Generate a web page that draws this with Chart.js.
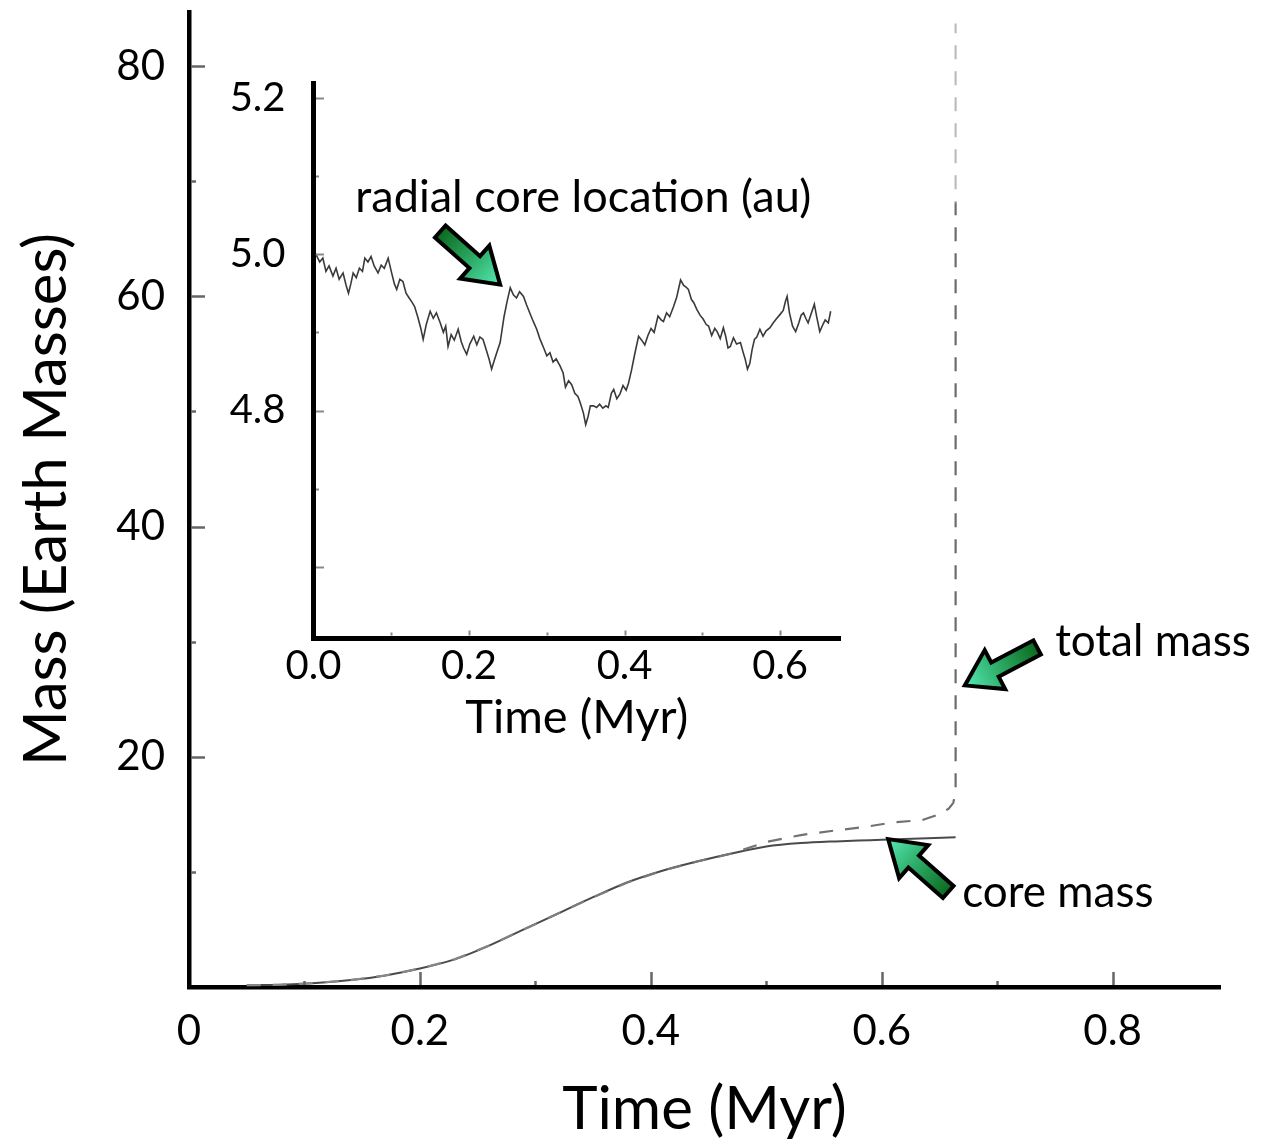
<!DOCTYPE html>
<html>
<head>
<meta charset="utf-8">
<script src="https://cdn.jsdelivr.net/npm/chart.js@4/dist/chart.umd.min.js"></script>
<style>
  html, body { margin: 0; padding: 0; background: #fff; overflow: hidden; }
  #wrap { position: relative; width: 1263px; height: 1148px; }
  #main { position: absolute; left: 0; top: 0; }
  #inset { position: absolute; left: 150px; top: 40px; }
</style>
</head>
<body>
<div id="wrap">
  <canvas id="main" width="1263" height="1148"></canvas>
  <canvas id="inset" width="760" height="720"></canvas>
</div>
<script>
// ---------------- DATA ----------------
// Main panel: core mass vs time
const coreTime = [0.05, 0.08, 0.11, 0.14, 0.17, 0.20, 0.23, 0.26, 0.29, 0.32, 0.35, 0.38, 0.41, 0.44, 0.47, 0.50, 0.53, 0.56, 0.59, 0.62, 0.664];
const coreMass = [0.15, 0.2, 0.35, 0.6, 1.0, 1.6, 2.4, 3.6, 5.0, 6.4, 7.8, 9.1, 10.1, 10.9, 11.6, 12.2, 12.5, 12.65, 12.75, 12.85, 13.0];
// Main panel: total mass vs time (dashed)
const totalTime = [0.05, 0.08, 0.11, 0.14, 0.17, 0.20, 0.23, 0.26, 0.29, 0.32, 0.35, 0.38, 0.41, 0.44, 0.47, 0.50, 0.53, 0.56, 0.585, 0.61, 0.635, 0.65, 0.658, 0.662, 0.664, 0.664];
const totalMass = [0.15, 0.2, 0.35, 0.6, 1.0, 1.6, 2.4, 3.6, 5.0, 6.4, 7.8, 9.1, 10.1, 10.9, 11.6, 12.6, 13.2, 13.6, 13.9, 14.3, 14.5, 15.0, 15.5, 16.0, 17.0, 83.7];
// Inset: radial core location (au) vs time (Myr)
const insetTime = [0.003,0.008,0.012,0.016,0.020,0.025,0.029,0.033,0.038,0.042,0.045,0.048,0.051,0.055,0.059,0.063,0.066,0.070,0.074,0.078,0.083,0.087,0.091,0.096,0.100,0.104,0.107,0.111,0.115,0.119,0.123,0.127,0.130,0.134,0.138,0.141,0.145,0.150,0.154,0.158,0.163,0.167,0.170,0.173,0.177,0.181,0.186,0.190,0.193,0.197,0.201,0.206,0.210,0.214,0.218,0.222,0.226,0.229,0.233,0.237,0.240,0.245,0.249,0.253,0.257,0.261,0.265,0.270,0.274,0.278,0.283,0.287,0.291,0.296,0.300,0.304,0.308,0.312,0.317,0.321,0.324,0.328,0.332,0.336,0.340,0.343,0.347,0.350,0.353,0.356,0.360,0.364,0.368,0.372,0.376,0.379,0.383,0.386,0.390,0.394,0.398,0.402,0.405,0.409,0.413,0.418,0.422,0.426,0.430,0.434,0.438,0.443,0.447,0.450,0.454,0.458,0.463,0.467,0.472,0.476,0.479,0.482,0.486,0.489,0.493,0.497,0.501,0.505,0.508,0.512,0.516,0.519,0.523,0.527,0.530,0.533,0.536,0.540,0.544,0.549,0.552,0.555,0.558,0.561,0.564,0.567,0.570,0.574,0.578,0.582,0.587,0.591,0.595,0.600,0.604,0.607,0.609,0.612,0.616,0.620,0.624,0.627,0.630,0.633,0.636,0.640,0.644,0.647,0.651,0.655,0.658,0.662,0.665];
const insetRadius = [5.000,4.990,4.995,4.978,4.985,4.972,4.982,4.968,4.976,4.960,4.950,4.962,4.976,4.970,4.982,4.978,4.995,4.990,4.997,4.985,4.976,4.986,4.982,4.995,4.978,4.962,4.955,4.968,4.965,4.950,4.944,4.938,4.933,4.920,4.905,4.891,4.910,4.927,4.918,4.925,4.912,4.900,4.908,4.882,4.897,4.890,4.904,4.888,4.880,4.872,4.885,4.895,4.884,4.894,4.891,4.878,4.865,4.853,4.866,4.878,4.887,4.920,4.940,4.957,4.948,4.944,4.952,4.946,4.935,4.925,4.913,4.904,4.892,4.880,4.870,4.874,4.862,4.866,4.857,4.848,4.830,4.838,4.833,4.822,4.818,4.810,4.797,4.782,4.792,4.806,4.806,4.804,4.808,4.803,4.806,4.804,4.822,4.827,4.815,4.821,4.832,4.826,4.835,4.852,4.872,4.895,4.890,4.884,4.896,4.905,4.900,4.921,4.916,4.914,4.925,4.920,4.933,4.945,4.967,4.960,4.958,4.955,4.942,4.938,4.929,4.922,4.917,4.910,4.908,4.896,4.905,4.901,4.892,4.906,4.895,4.880,4.882,4.893,4.885,4.887,4.876,4.866,4.853,4.860,4.878,4.891,4.894,4.904,4.895,4.902,4.906,4.912,4.917,4.923,4.928,4.940,4.946,4.925,4.908,4.901,4.912,4.922,4.925,4.918,4.912,4.924,4.936,4.920,4.901,4.910,4.916,4.912,4.927];

// Tick values and labels
const mainXTicks = [0, 0.2, 0.4, 0.6, 0.8];
const mainXLabels = ['0', '0.2', '0.4', '0.6', '0.8'];
const mainXMinor = [0.1, 0.3, 0.5, 0.7];
const mainYTicks = [20, 40, 60, 80];
const mainYLabels = ['20', '40', '60', '80'];
const mainYMinor = [10, 30, 50, 70];
const insetXTicks = [0, 0.2, 0.4, 0.6];
const insetXLabels = ['0.0', '0.2', '0.4', '0.6'];
const insetXMinor = [0.1, 0.3, 0.5];
const insetYTicks = [4.8, 5.0, 5.2];
const insetYLabels = ['4.8', '5.0', '5.2'];
const insetYMajorMarks = [4.6, 4.8, 5.0, 5.2];
const insetYMinor = [4.7, 4.9, 5.1];

// ---------------- PLUGINS ----------------
const innerTicks = {
  id: 'innerTicks',
  afterDraw(chart, args, o) {
    const ctx = chart.ctx, a = chart.chartArea, xs = chart.scales.x, ys = chart.scales.y;
    ctx.save();
    ctx.strokeStyle = o.color || '#666';
    ctx.lineWidth = o.width || 2;
    const edge = o.edge || 2;
    const xt = (vals, len) => vals.forEach(v => {
      const px = Math.round(xs.getPixelForValue(v)) + 0.5;
      ctx.beginPath(); ctx.moveTo(px, a.bottom - edge); ctx.lineTo(px, a.bottom - edge - len); ctx.stroke();
    });
    const yt = (vals, len) => vals.forEach(v => {
      const py = Math.round(ys.getPixelForValue(v)) + 0.5;
      ctx.beginPath(); ctx.moveTo(a.left + edge, py); ctx.lineTo(a.left + edge + len, py); ctx.stroke();
    });
    xt(o.xMajor || [], o.xMajorLen); xt(o.xMinor || [], o.xMinorLen);
    yt(o.yMajor || [], o.yMajorLen); yt(o.yMinor || [], o.yMinorLen);
    ctx.restore();
  }
};

function drawArrow(ctx, tx, ty, hx, hy, shaftW, headW, headL) {
  const ang = Math.atan2(hy - ty, hx - tx);
  const len = Math.hypot(hx - tx, hy - ty);
  ctx.save();
  ctx.translate(tx, ty); ctx.rotate(ang);
  ctx.beginPath();
  ctx.moveTo(0, -shaftW / 2);
  ctx.lineTo(len - headL, -shaftW / 2);
  ctx.lineTo(len - headL, -headW / 2);
  ctx.lineTo(len, 0);
  ctx.lineTo(len - headL, headW / 2);
  ctx.lineTo(len - headL, shaftW / 2);
  ctx.lineTo(0, shaftW / 2);
  ctx.closePath();
  const g = ctx.createLinearGradient(0, 0, len, 0);
  g.addColorStop(0, '#0a6a1e');
  g.addColorStop(0.55, '#2fae6a');
  g.addColorStop(1, '#55e9b4');
  ctx.fillStyle = g; ctx.fill();
  ctx.lineWidth = 4; ctx.lineJoin = 'miter'; ctx.strokeStyle = '#000'; ctx.stroke();
  ctx.restore();
}

const notes = {
  id: 'notes',
  afterDraw(chart, args, o) {
    const ctx = chart.ctx, xs = chart.scales.x, ys = chart.scales.y;
    (o.arrows || []).forEach(ar => {
      drawArrow(ctx, xs.getPixelForValue(ar.tail[0]), ys.getPixelForValue(ar.tail[1]),
                xs.getPixelForValue(ar.tip[0]), ys.getPixelForValue(ar.tip[1]), 16, 44, 34);
    });
    (o.texts || []).forEach(t => {
      ctx.save();
      ctx.font = t.size + 'px Lato';
      ctx.fillStyle = '#000';
      ctx.textAlign = t.align; ctx.textBaseline = 'middle';
      ctx.fillText(t.text, xs.getPixelForValue(t.x), ys.getPixelForValue(t.y));
      ctx.restore();
    });
  }
};

function pts(xa, ya) { return xa.map((x, i) => ({ x: x, y: ya[i] })); }
function noPadV(s) { s.paddingTop = 0; s.paddingBottom = 0; }
function noPadH(s) { s.paddingLeft = 0; s.paddingRight = 0; }

function build() {
  Chart.defaults.font.family = 'Lato';
  Chart.defaults.color = '#000';

  new Chart(document.getElementById('main'), {
    type: 'line',
    data: {
      datasets: [
        {
          label: 'total mass',
          data: pts(totalTime, totalMass),
          borderColor: (c) => {
            const ch = c.chart, a = ch.chartArea;
            if (!a) return '#777';
            const f = (a.bottom - ch.scales.y.getPixelForValue(68)) / (a.bottom - a.top);
            const g = ch.ctx.createLinearGradient(0, a.bottom, 0, a.top);
            g.addColorStop(0, '#8a8a8a');
            g.addColorStop(0.2, '#6c6c6c');
            g.addColorStop(f, '#6c6c6c');
            g.addColorStop(Math.min(1, f + 0.004), '#bdbdbd');
            g.addColorStop(1, '#bdbdbd');
            return g;
          },
          borderWidth: 2.2,
          borderDash: [14, 12],
          pointRadius: 0,
          tension: 0
        },
        {
          label: 'core mass',
          data: pts(coreTime, coreMass),
          borderColor: '#4a4a4a',
          borderWidth: 2,
          pointRadius: 0,
          cubicInterpolationMode: 'monotone'
        }
      ]
    },
    options: {
      responsive: false, animation: false, devicePixelRatio: 1,
      layout: { padding: { top: 12, right: 43, left: 0, bottom: 0 } },
      plugins: {
        legend: { display: false }, tooltip: { enabled: false },
        innerTicks: { xMajor: mainXTicks.slice(1), xMinor: mainXMinor, yMajor: mainYTicks, yMinor: mainYMinor,
                      xMajorLen: 13, xMinorLen: 4, yMajorLen: 14, yMinorLen: 5, color: '#666', width: 2.5, edge: 2 },
        notes: {
          arrows: [
            { tail: [0.7346, 29.5], tip: [0.672, 26.2] },
            { tail: [0.6576, 8.25], tip: [0.6056, 12.85] }
          ],
          texts: [
            { text: 'total mass', x: 0.7502, y: 30.0, align: 'left', size: 44 },
            { text: 'core mass', x: 0.6697, y: 8.16, align: 'left', size: 44 }
          ]
        }
      },
      scales: {
        x: {
          type: 'linear', min: 0, max: 0.893,
          afterBuildTicks: (s) => { s.ticks = mainXTicks.map(v => ({ value: v })); },
          afterFit: (s) => { s.height = 161; noPadH(s); },
          grid: { display: false, drawTicks: false },
          border: { display: true, color: '#000', width: 4.5 },
          ticks: { padding: 19, font: { size: 42 }, maxRotation: 0, autoSkip: false,
                   callback: (v, i) => mainXLabels[i] },
          title: { display: true, text: 'Time (Myr)', font: { size: 60 }, padding: { top: 0, bottom: 2 } }
        },
        y: {
          type: 'linear', min: 0, max: 84.7,
          afterBuildTicks: (s) => { s.ticks = mainYTicks.map(v => ({ value: v })); },
          afterFit: (s) => { s.width = 189; noPadV(s); },
          grid: { display: false, drawTicks: false },
          border: { display: true, color: '#000', width: 4.5 },
          ticks: { padding: 24, font: { size: 42 }, autoSkip: false,
                   callback: (v, i) => mainYLabels[i] },
          title: { display: true, text: 'Mass (Earth Masses)', font: { size: 60 }, padding: { top: 11, bottom: 0 } }
        }
      }
    },
    plugins: [innerTicks, notes]
  });

  new Chart(document.getElementById('inset'), {
    type: 'line',
    data: {
      datasets: [{
        label: 'radial core location (au)',
        data: pts(insetTime, insetRadius),
        borderColor: '#3a3a3a',
        borderWidth: 1.6,
        pointRadius: 0,
        tension: 0
      }]
    },
    options: {
      responsive: false, animation: false, devicePixelRatio: 1,
      layout: { padding: { top: 43, right: 70, left: 0, bottom: 0 } },
      plugins: {
        legend: { display: false }, tooltip: { enabled: false },
        innerTicks: { xMajor: insetXTicks.slice(1), xMinor: insetXMinor, yMajor: insetYMajorMarks, yMinor: insetYMinor,
                      xMajorLen: 5, xMinorLen: 3, yMajorLen: 8, yMinorLen: 3, color: '#888', width: 2, edge: 2.5 },
        notes: {
          arrows: [ { tail: [0.163, 5.029], tip: [0.240, 4.961] } ],
          texts: [ { text: 'radial core location (au)', x: 0.347, y: 5.072, align: 'center', size: 45 } ]
        }
      },
      scales: {
        x: {
          type: 'linear', min: 0, max: 0.677,
          afterBuildTicks: (s) => { s.ticks = insetXTicks.map(v => ({ value: v })); },
          afterFit: (s) => { s.height = 122; noPadH(s); },
          grid: { display: false, drawTicks: false },
          border: { display: true, color: '#000', width: 5 },
          ticks: { padding: 4, font: { size: 40 }, maxRotation: 0, autoSkip: false,
                   callback: (v, i) => insetXLabels[i] },
          title: { display: true, text: 'Time (Myr)', font: { size: 47 }, padding: { top: 0, bottom: 14 } }
        },
        y: {
          type: 'linear', min: 4.509, max: 5.219,
          afterBuildTicks: (s) => { s.ticks = insetYTicks.map(v => ({ value: v })); },
          afterFit: (s) => { s.width = 163.5; noPadV(s); },
          grid: { display: false, drawTicks: false },
          border: { display: true, color: '#000', width: 5 },
          ticks: { padding: 28, font: { size: 40 }, autoSkip: false,
                   callback: (v, i) => insetYLabels[i] }
        }
      }
    },
    plugins: [innerTicks, notes]
  });
}

if (document.fonts && document.fonts.load) {
  Promise.all([document.fonts.load('40px Lato'), document.fonts.load('60px Lato')])
    .then(build, build);
} else { build(); }
</script>
</body>
</html>
